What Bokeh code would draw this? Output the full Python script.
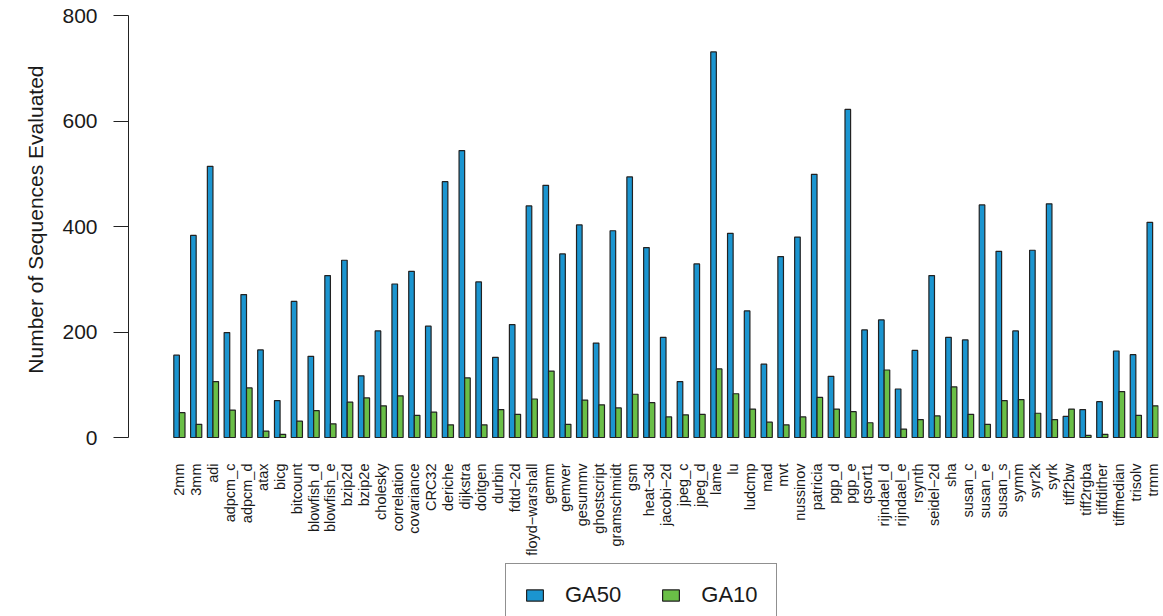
import numpy as np
from bokeh.plotting import figure
from bokeh.models import ColumnDataSource, Range1d, FixedTicker, Legend, LegendItem, Title
from bokeh.core.properties import value
from bokeh.transform import dodge
from bokeh.embed import file_html
from bokeh.resources import INLINE

categories = ["2mm", "3mm", "adi", "adpcm_c", "adpcm_d", "atax", "bicg", "bitcount",
              "blowfish_d", "blowfish_e", "bzip2d", "bzip2e", "cholesky", "correlation",
              "covariance", "CRC32", "deriche", "dijkstra", "doitgen", "durbin", "fdtd\u22122d",
              "floyd\u2212warshall", "gemm", "gemver", "gesummv", "ghostscript", "gramschmidt",
              "gsm", "heat\u22123d", "jacobi\u22122d", "jpeg_c", "jpeg_d", "lame", "lu", "ludcmp",
              "mad", "mvt", "nussinov", "patricia", "pgp_d", "pgp_e", "qsort1", "rijndael_d",
              "rijndael_e", "rsynth", "seidel\u22122d", "sha", "susan_c", "susan_e", "susan_s",
              "symm", "syr2k", "syrk", "tiff2bw", "tiff2rgba", "tiffdither", "tiffmedian",
              "trisolv", "trmm"]

ga50 = [156, 383, 514, 199, 271, 166, 70, 258, 154, 307, 336, 117, 202, 291, 315, 211,
        485, 544, 295, 152, 214, 439, 478, 348, 403, 179, 392, 494, 360, 190, 106, 329,
        731, 387, 240, 139, 343, 380, 499, 116, 622, 204, 223, 92, 165, 307, 190, 185,
        441, 353, 202, 355, 443, 40, 53, 68, 164, 157, 408]

ga10 = [47, 25, 106, 52, 94, 12, 6, 31, 51, 26, 67, 75, 60, 79, 42, 48, 24, 113, 24, 53,
        44, 73, 126, 25, 71, 62, 56, 82, 66, 39, 43, 44, 130, 83, 54, 29, 24, 39, 76, 54,
        49, 28, 128, 16, 34, 41, 96, 44, 25, 70, 72, 46, 34, 54, 4, 6, 87, 42, 60]

series_names = ["GA50", "GA10"]
y_ticks = [0, 200, 400, 600, 800]
y_title = "Number of Sequences Evaluated"
colors = ["#1b95d0", "#6abf47"]

FONT = "Liberation Sans"
TEXT = "#1a1a1a"

idx = np.arange(len(categories))
src = ColumnDataSource(dict(idx=idx, cat=categories, ga50=ga50, ga10=ga10,
                            zero=[0] * len(categories)))

# frame spans the whole height below the top border; the value axis is bounded to 0..800
p = figure(frame_width=1030, frame_height=601, output_backend="svg", toolbar_location=None,
           x_range=Range1d(-3.033, 58.35), y_range=Range1d(-339.3, 800),
           min_border_left=128, min_border_right=2, min_border_top=15,
           min_border_bottom=0)

r1 = p.vbar(x=dodge("idx", -1/6, range=p.x_range), top="ga50", width=1/3, source=src,
            fill_color=colors[0], line_color="#222222", line_width=1.2)
r2 = p.vbar(x=dodge("idx", 1/6, range=p.x_range), top="ga10", width=1/3, source=src,
            fill_color=colors[1], line_color="#222222", line_width=1.2)

# category names under each group
p.text(x="idx", y="zero", text="cat", source=src, angle=np.pi / 2,
       text_align="right", text_baseline="middle", y_offset=26,
       text_font=value(FONT), text_font_size="14.5px", text_color=TEXT)

p.xgrid.visible = False
p.ygrid.visible = False
p.outline_line_color = None
p.xaxis.visible = False

yax = p.yaxis[0]
yax.bounds = (0, 800)
yax.ticker = FixedTicker(ticks=y_ticks)
yax.major_tick_out = 15
yax.major_tick_in = 0
yax.minor_tick_line_color = None
yax.axis_line_color = "#222222"
yax.major_tick_line_color = "#222222"
yax.major_label_standoff = 16
yax.major_label_text_font = FONT
yax.major_label_text_font_size = "21px"
yax.major_label_text_color = TEXT

title = Title(text=y_title, align="right", offset=50, standoff=26,
              text_font=FONT, text_font_size="21px", text_font_style="normal",
              text_color=TEXT)
p.add_layout(title, "left")

legend = Legend(items=[LegendItem(label=series_names[0], renderers=[r1]),
                       LegendItem(label=series_names[1], renderers=[r2])],
                orientation="horizontal", location=(377, -11), margin=0,
                padding=18, spacing=39, label_standoff=20, label_width=56,
                glyph_width=21, glyph_height=14, label_height=24,
                label_text_font=FONT, label_text_font_size="22px",
                label_text_color=TEXT, border_line_color="#222222",
                border_line_width=1.2, background_fill_color="white",
                background_fill_alpha=1.0)
p.add_layout(legend)

open("out.html", "w").write(file_html(p, INLINE))
